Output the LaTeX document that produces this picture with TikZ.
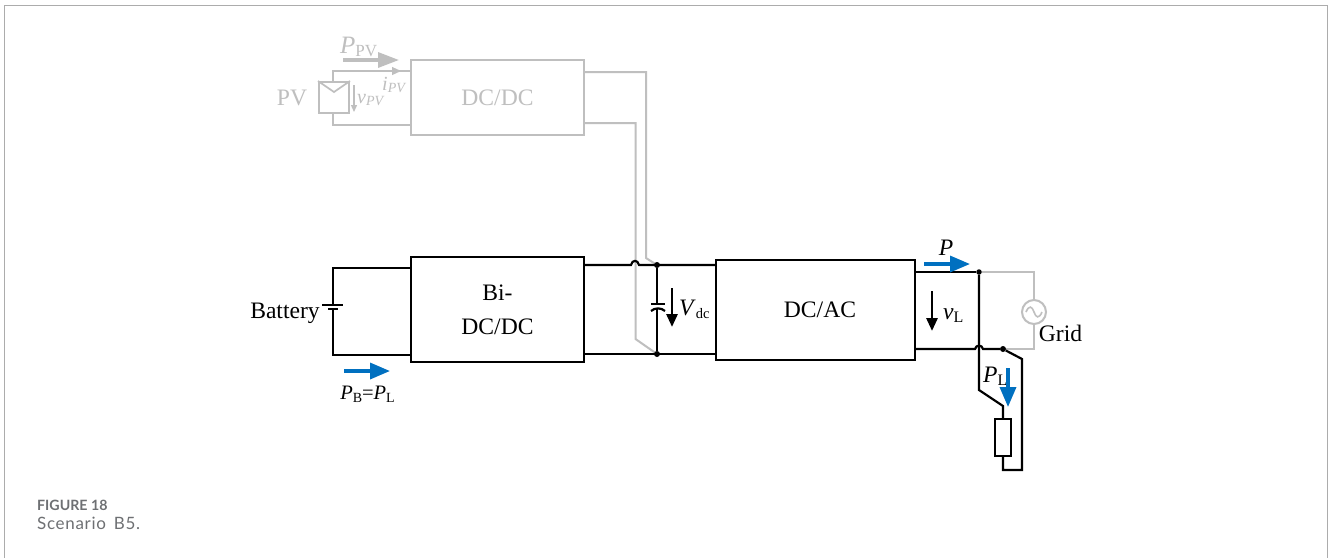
\documentclass[tikz,border=0pt]{standalone}
\usepackage{fontspec}
\setmainfont{Liberation Serif}
\newfontfamily\capfont{Lato}
\newfontfamily\capwide{Lato}[LetterSpace=4,WordSpace=1.6]
\usetikzlibrary{arrows.meta,calc}
\definecolor{ghost}{RGB}{191,191,191}
\definecolor{flow}{RGB}{0,112,192}
\definecolor{captxt}{RGB}{110,112,115}
\tikzset{
  x=1pt,y=-1pt,
  wire/.style={line width=2.2pt,black,line join=miter},
  gwire/.style={line width=2pt,ghost,line join=miter},
  box/.style={draw,line width=2.2pt,black,minimum width=0pt,inner sep=0pt},
  lbl/.style={inner sep=0pt,font=\fontsize{23.6}{26}\selectfont},
  glbl/.style={lbl,text=ghost},
  dot/.style={circle,fill=black,inner sep=0pt,minimum size=6pt},
  flowarrow/.style={line width=3.4pt,flow,-{Triangle[length=20pt,width=16pt]}},
  vfarrow/.style={line width=2.8pt,black,-{Triangle[length=13pt,width=11pt]}},
  garrow/.style={line width=3.2pt,ghost,-{Triangle[length=21pt,width=15pt]}},
}
\begin{document}
\begin{tikzpicture}
\useasboundingbox (0,0) rectangle (1328,558);
\fill[white] (0,0) rectangle (1328,558);
% page frame
\coordinate (fbl) at (4.5,558); \coordinate (ftl) at (4.5,5.5);
\coordinate (ftr) at (1327,5.5); \coordinate (fbr) at (1327,558);
\draw[line width=1pt,ghost!90!black] (fbl) -- (ftl) -- (ftr) -- (fbr);

% ---- PV branch (ghosted)
\node[draw=ghost,line width=2pt,minimum width=173pt,minimum height=75pt,inner sep=0pt,
  text=ghost,font=\fontsize{23.6}{26}\selectfont] (pvdc) at (497.5,97.5) {DC/DC};
\node[draw=ghost,line width=2pt,minimum width=30pt,minimum height=31pt,inner sep=0pt] (pvp) at (334,97.5) {};
\draw[gwire,line width=1.7pt] (pvp.north west) -- ($(pvp.north)+(0,11)$) -- (pvp.north east);
\coordinate (pv1t) at (333,71); \coordinate (pv2b) at (333,125);
\coordinate (pvin1) at (411,71); \coordinate (pvin2) at (411,125);
\draw[gwire] (pvp.north -| pv1t) -- (pv1t) -- (pvin1);
\draw[gwire] (pvp.south -| pv2b) -- (pv2b) -- (pvin2);
\node[glbl] (pvt) at (292,97.5) {PV};
\node[glbl,anchor=base west] (ppv) at (340,53) {\fontsize{25}{26}\selectfont\textit{P}\raisebox{-3pt}{\fontsize{17}{17}\selectfont PV}};
\coordinate (pa1) at (343,60); \coordinate (pa2) at (399,60);
\draw[garrow] (pa1) -- (pa2);
\coordinate (ia1) at (385,71); \coordinate (ia2) at (401,71);
\draw[ghost,line width=1.2pt,-{Triangle[length=9pt,width=8pt]}] (ia1) -- (ia2);
\coordinate (va1) at (354,85); \coordinate (va2) at (354,112);
\draw[ghost,line width=1.3pt,-{Triangle[length=7pt,width=6pt]}] (va1) -- (va2);
\node[inner sep=0pt,text=ghost,anchor=base west,font=\fontsize{20}{22}\selectfont] (vpv) at (357,103) {\textit{v}\raisebox{-2pt}{\fontsize{14}{14}\selectfont\textit{PV}}};
\node[inner sep=0pt,text=ghost,anchor=base west,font=\fontsize{20}{22}\selectfont] (ipv) at (382,90) {\textit{i}\raisebox{-2pt}{\fontsize{14}{14}\selectfont\textit{PV}}};

\coordinate (g1a) at (584,72); \coordinate (g1b) at (646,72); \coordinate (g1c) at (646,258); \coordinate (jt) at (657,265);
\coordinate (g2a) at (584,123); \coordinate (g2b) at (635.5,123); \coordinate (g2c) at (635.5,339); \coordinate (jb) at (657,354);
\draw[gwire] (g1a) -- (g1b) -- (g1c) -- (jt);
\draw[gwire] (g2a) -- (g2b) -- (g2c) -- (jb);

% ---- main boxes
\node[box,minimum width=173pt,minimum height=105pt,align=center,font=\fontsize{23.6}{34}\selectfont] (bidc) at (497.5,309.5) {Bi-\\DC/DC};
\node[box,minimum width=199pt,minimum height=100pt,font=\fontsize{23.6}{26}\selectfont] (dcac) at (815.5,310) {\raisebox{-1.5pt}{\hspace*{9pt}DC/AC}};

% ---- battery
\coordinate (bi1) at (411,268); \coordinate (bi2) at (411,355);
\coordinate (bt1) at (333,268); \coordinate (bt2) at (333,355);
\coordinate (bp1) at (333,305); \coordinate (bp2) at (333,309);
\draw[wire] (bi1) -- (bt1) -- (bp1);
\draw[wire] (bi2) -- (bt2) -- (bp2);
\draw[wire] ($(bp1)+(-11,0)$) -- ($(bp1)+(10,0)$);
\draw[wire,line width=2.4pt] ($(bp2)+(-5,0)$) -- ($(bp2)+(5,0)$);
\node[lbl,anchor=base] (batt) at (285,318) {Battery};
\coordinate (ba1) at (344,371); \coordinate (ba2) at (390,371);
\draw[flowarrow] (ba1) -- (ba2);
\node[lbl,anchor=base] (pbl) at (367.5,399) {\fontsize{20.5}{22}\selectfont\textit{P}\raisebox{-3pt}{\fontsize{14}{14}\selectfont B}=\textit{P}\raisebox{-3pt}{\fontsize{14}{14}\selectfont L}};

% ---- DC link
\coordinate (w1a) at (584,265); \coordinate (h1) at (631,265); \coordinate (h2) at (639,265); \coordinate (w1b) at (716,265);
\coordinate (w2a) at (584,354); \coordinate (w2b) at (716,354);
\draw[wire] (w1a) -- (h1) .. controls (632,259.5) and (638,259.5) .. (h2) -- (w1b);
\draw[wire] (w2a) -- (w2b);
\node[dot] (d1) at (jt) {};
\node[dot] (d2) at (jb) {};
\coordinate (c1) at (657,304); \coordinate (c2) at (657,309);
\draw[wire] (d1) -- (c1);
\draw[wire] (d2) -- (c2);
\draw[wire] (651,304) -- (665,304);
\draw[wire] (651,311) .. controls (655,307.5) and (661,307.5) .. (665,311);
\coordinate (vd1) at (672,288); \coordinate (vd2) at (672,327);
\draw[vfarrow] (vd1) -- (vd2);
\node[lbl,anchor=base west] (vdc) at (679,315) {\textit{V}\raisebox{-3pt}{\fontsize{14.5}{15}\selectfont dc}};

% ---- AC side
\coordinate (a1) at (915,272); \coordinate (a2) at (915,349);
\node[dot,minimum size=5.5pt] (d3) at (979,272) {};
\node[dot] (d4) at (1003,349) {};
\coordinate (g3) at (1034,272); \coordinate (g4) at (1034,349);
\node[circle,draw=ghost,line width=2pt,minimum size=24pt,inner sep=0pt] (src) at (1034,312) {};
\draw[ghost,line width=1.6pt] (1026,312) .. controls (1029,305) and (1032,306) .. (1034,312) .. controls (1036,318) and (1039,319) .. (1042,312);
\draw[gwire] (d3) -- (g3) -- (src.north);
\draw[gwire] (src.south) -- (g4) -- (d4);
\coordinate (hc1) at (975,349); \coordinate (hc2) at (983,349);
\draw[wire] (a1) -- (d3);
\draw[wire] (a2) -- (hc1) .. controls (976,344.5) and (982,344.5) .. (hc2) -- (d4);
\coordinate (l1) at (979,390); \coordinate (l2) at (1003,406);
\node[box,minimum width=16pt,minimum height=37pt] (res) at (1003,437.5) {};
\draw[wire] (d3) -- (l1) -- (l2) -- (res.north);
\coordinate (r1) at (1003,470); \coordinate (r2) at (1022,470); \coordinate (r3) at (1022,359);
\draw[wire] (res.south) -- (r1) -- (r2) -- (r3) -- (d4);

\coordinate (pa3) at (924,264); \coordinate (pa4) at (970,264);
\draw[flowarrow] (pa3) -- (pa4);
\node[lbl,anchor=base] (pl) at (946,255) {\textit{P}};
\coordinate (vl1) at (932,291); \coordinate (vl2) at (932,331);
\draw[vfarrow] (vl1) -- (vl2);
\node[lbl,anchor=base west] (vlt) at (943,319) {\textit{v}\raisebox{-3pt}{\fontsize{16}{16}\selectfont L}};
\node[lbl,anchor=base west] (plt) at (983,382) {\textit{P}\raisebox{-3pt}{\fontsize{16}{16}\selectfont L}};
\coordinate (pl1) at (1008,368); \coordinate (pl2) at (1008,407);
\draw[flowarrow] (pl1) -- (pl2);
\node[lbl,anchor=base] (grid) at (1060.5,341.5) {Grid};

% ---- caption
\node[inner sep=0pt,anchor=base west,text=captxt,font=\capfont\bfseries\fontsize{14.2}{16}\selectfont] (figl) at (37,510) {FIGURE 18};
\node[inner sep=0pt,anchor=base west,text=captxt,font=\capwide\fontsize{17}{20}\selectfont] (figc) at (37,529.5) {Scenario B5.};
\end{tikzpicture}
\end{document}
